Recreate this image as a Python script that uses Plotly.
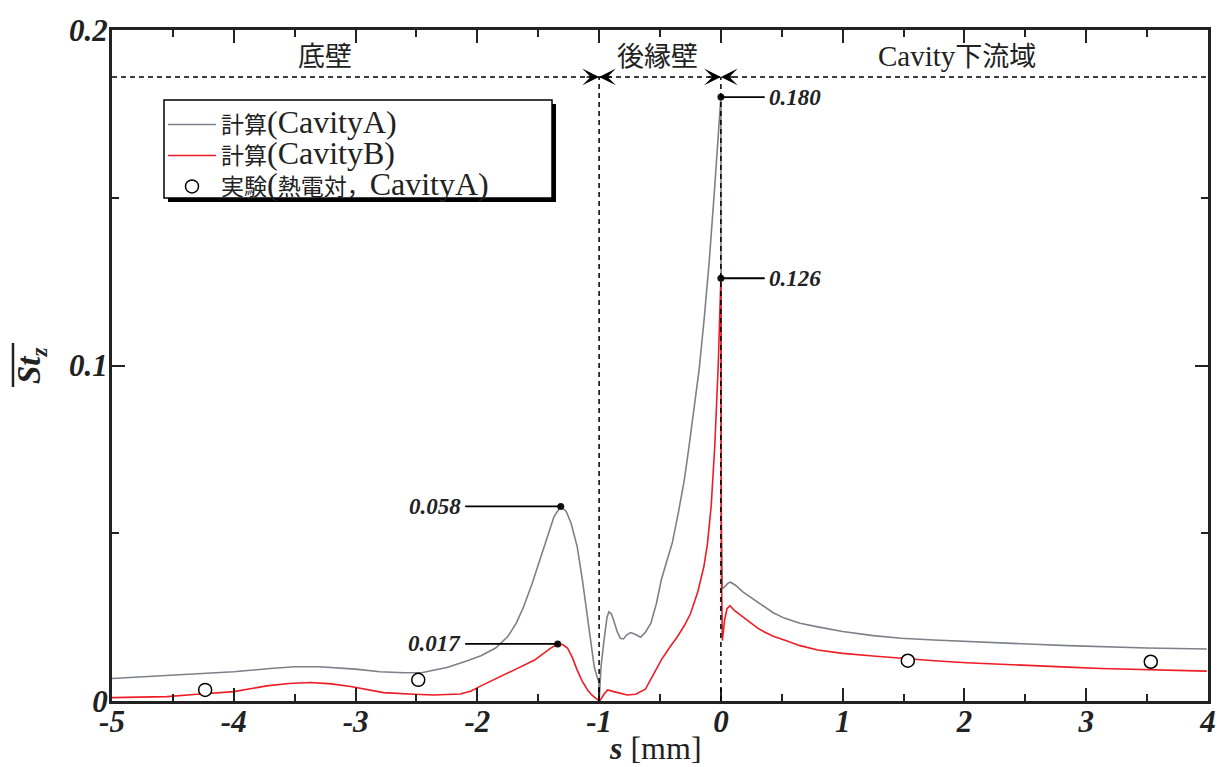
import plotly.graph_objects as go

# ---------------- data ----------------
s_A = [-5.0, -4.5, -4.0, -3.7, -3.5, -3.3, -3.0, -2.8, -2.6, -2.45, -2.25, -2.1, -1.97, -1.85,
       -1.75, -1.68, -1.62, -1.55, -1.48, -1.42, -1.37, -1.315, -1.27, -1.23, -1.18, -1.137,
       -1.082, -1.04, -1.013, -1.003, -0.998, -0.985, -0.96, -0.935, -0.92, -0.90, -0.88, -0.85,
       -0.825, -0.80, -0.77, -0.74, -0.70, -0.66, -0.62, -0.575, -0.53, -0.49, -0.45, -0.40,
       -0.35, -0.30, -0.265, -0.233, -0.20, -0.178, -0.137, -0.096, -0.055, -0.025, 0.0, 0.003,
       0.012, 0.03, 0.06, 0.08, 0.12, 0.18, 0.25, 0.30, 0.35, 0.43, 0.52, 0.65, 0.795, 1.0, 1.25,
       1.48, 1.75, 2.02, 2.3, 2.57, 2.85, 3.12, 3.5, 3.99]
st_A = [0.0067, 0.0077, 0.0087, 0.0097, 0.0102, 0.0102, 0.0095, 0.0087, 0.0084, 0.0085, 0.0100,
        0.0118, 0.0135, 0.0158, 0.0192, 0.0232, 0.0281, 0.0350, 0.0430, 0.0500, 0.0550, 0.0580,
        0.0565, 0.0530, 0.0460, 0.0360, 0.0212, 0.0102, 0.0068, 0.0060, 0.0010, 0.0100, 0.0180,
        0.0250, 0.0266, 0.0260, 0.0240, 0.0205, 0.0187, 0.0185, 0.0198, 0.0204, 0.0198, 0.0190,
        0.0205, 0.0232, 0.0290, 0.0360, 0.0410, 0.0470, 0.0560, 0.0660, 0.0750, 0.0840, 0.0930,
        0.0990, 0.1140, 0.1310, 0.1510, 0.1660, 0.1800, 0.0550, 0.0335, 0.0340, 0.0352, 0.0354,
        0.0345, 0.0325, 0.0307, 0.0294, 0.0282, 0.0263, 0.0247, 0.0232, 0.0221, 0.0207, 0.0195,
        0.0187, 0.0182, 0.0177, 0.0173, 0.0169, 0.0165, 0.0162, 0.0158, 0.0155]

s_B = [-5.0, -4.55, -4.3, -4.0, -3.73, -3.55, -3.37, -3.2, -3.04, -2.9, -2.77, -2.52, -2.36, -2.14,
       -2.05, -1.97, -1.81, -1.70, -1.53, -1.40, -1.34, -1.30, -1.26, -1.22, -1.18, -1.14, -1.095,
       -1.06, -1.027, -0.995, -0.96, -0.93, -0.88, -0.82, -0.77, -0.70, -0.66, -0.62, -0.575,
       -0.49, -0.42, -0.36, -0.30, -0.25, -0.19, -0.14, -0.11, -0.08, -0.05, -0.022, 0.0, 0.004,
       0.012, 0.03, 0.05, 0.075, 0.11, 0.18, 0.25, 0.30, 0.35, 0.43, 0.52, 0.65, 0.795, 1.0, 1.25,
       1.48, 1.75, 2.02, 2.3, 2.57, 2.85, 3.12, 3.5, 3.99]
st_B = [0.0010, 0.0013, 0.0020, 0.0028, 0.0045, 0.0052, 0.0055, 0.0051, 0.0043, 0.0033, 0.0025,
        0.0020, 0.0018, 0.0021, 0.0030, 0.0045, 0.0072, 0.0092, 0.0122, 0.0157, 0.0170, 0.0168,
        0.0158, 0.0130, 0.0092, 0.0060, 0.0033, 0.0018, 0.0008, 0.0000, 0.0020, 0.0033, 0.0028,
        0.0022, 0.0018, 0.0020, 0.0028, 0.0035, 0.0065, 0.0122, 0.0160, 0.0190, 0.0225, 0.0260,
        0.0325, 0.0400, 0.0470, 0.0580, 0.0760, 0.1000, 0.1260, 0.0400, 0.0180, 0.0240, 0.0275,
        0.0284, 0.0270, 0.0250, 0.0232, 0.0218, 0.0207, 0.0193, 0.0182, 0.0165, 0.0152, 0.0142,
        0.0134, 0.0127, 0.0120, 0.0114, 0.0109, 0.0105, 0.0101, 0.0097, 0.0093, 0.0089]

s_exp = [-4.235, -2.485, 1.535, 3.53]
st_exp = [0.0033, 0.0063, 0.0120, 0.0117]

peak_s = [-1.315, -1.34, 0.0, 0.0]
peak_v = [0.058, 0.017, 0.180, 0.126]
peak_side = ["left", "left", "right", "right"]

region_names = ["底壁", "後縁壁", "Cavity下流域"]
region_s = [-3.25, -0.52, 1.94]
region_bounds = [-1.0, 0.0]

x_ticks = [-5, -4, -3, -2, -1, 0, 1, 2, 3, 4]
x_ticktext = ["-5", "-4", "-3", "-2", "-1", "0", "1", "2", "3", "4"]
y_ticks = [0, 0.1, 0.2]
y_ticktext = ["0", "0.1", "0.2"]

# ---------------- layout helpers ----------------
W, H = 1223, 767
L, R, T, B = 112, 15, 30, 66
PW, PH = W - L - R, H - T - B


def px_x(p):
    return (p - L) / PW


def px_y(p):
    return (H - B - p) / PH


SERIF = "Liberation Serif"
CJK = "Noto Sans CJK JP"


def cjk(t, size=23):
    return f'<span style="font-family:{CJK};font-size:{size}px">{t}</span>'


def lat(t, size=32):
    return f'<span style="font-size:{size}px">{t}</span>'


GRAY = "#7c8088"
RED = "#ee1c24"

fig = go.Figure()
fig.add_trace(go.Scatter(x=s_A, y=st_A, mode="lines", line=dict(color=GRAY, width=1.6),
                         name=cjk("計算") + lat("(CavityA)")))
fig.add_trace(go.Scatter(x=s_B, y=st_B, mode="lines", line=dict(color=RED, width=1.6),
                         name=cjk("計算") + lat("(CavityB)")))
fig.add_trace(go.Scatter(x=s_exp, y=st_exp, mode="markers",
                         marker=dict(symbol="circle", size=13, color="white",
                                     line=dict(color="black", width=1.5)),
                         name=cjk("実験") + lat("(") + cjk("熱電対，") + lat("CavityA)")))
fig.add_trace(go.Scatter(x=peak_s, y=peak_v, mode="markers", showlegend=False,
                         marker=dict(color="#111", size=7)))

shapes = []
annotations = []
# peak leader lines and labels
for sx, v, side in zip(peak_s, peak_v, peak_side):
    if side == "left":
        shapes.append(dict(type="line", x0=-2.10, x1=sx, y0=v, y1=v,
                           line=dict(color="black", width=1.8)))
        annotations.append(dict(x=-2.12, y=v, text=f"{v:.3f}", showarrow=False,
                                xanchor="right", yanchor="middle",
                                font=dict(family=SERIF, size=23, weight="bold", style="italic",
                                          color="#222")))
    else:
        shapes.append(dict(type="line", x0=sx, x1=0.36, y0=v, y1=v,
                           line=dict(color="black", width=1.8)))
        annotations.append(dict(x=0.38, y=v, text=f"{v:.3f}", showarrow=False,
                                xanchor="left", yanchor="middle",
                                font=dict(family=SERIF, size=23, weight="bold", style="italic",
                                          color="#222")))

# region divider lines
Y_DIV = 0.186
shapes.append(dict(type="line", x0=-5, x1=4, y0=Y_DIV, y1=Y_DIV,
                   line=dict(color="black", width=1.5, dash="5px,4px")))
for bx in region_bounds:
    shapes.append(dict(type="line", x0=bx, x1=bx, y0=0, y1=Y_DIV,
                       line=dict(color="black", width=1.5, dash="5px,4px")))
    for off in (-14, 14):
        annotations.append(dict(x=bx, y=Y_DIV, ax=off, ay=0, text="", showarrow=True,
                                arrowhead=3, arrowsize=2.0, arrowwidth=1.4,
                                arrowcolor="black", standoff=0))

for name, sx in zip(region_names, region_s):
    if name.startswith("Cavity"):
        txt = lat("Cavity", 29) + cjk(name[6:], 27)
    else:
        txt = cjk(name, 27)
    annotations.append(dict(x=sx, y=0.1928, text=txt, showarrow=False,
                            xanchor="center", yanchor="middle",
                            font=dict(family=SERIF, size=27, color="#222")))

# legend box with shadow
shapes.append(dict(type="rect", xref="paper", yref="paper",
                   x0=px_x(168), x1=px_x(556), y0=px_y(202), y1=px_y(104),
                   fillcolor="black", line=dict(width=0), layer="above"))
shapes.append(dict(type="rect", xref="paper", yref="paper",
                   x0=px_x(164), x1=px_x(552), y0=px_y(198), y1=px_y(100),
                   fillcolor="white", line=dict(color="black", width=1.5), layer="above"))

# axis titles
annotations.append(dict(xref="paper", yref="paper", x=px_x(655), y=px_y(748),
                        text="<b><i>s</i></b> [mm]", showarrow=False,
                        xanchor="center", yanchor="middle",
                        font=dict(family=SERIF, size=32, color="#222")))
annotations.append(dict(xref="paper", yref="paper", x=px_x(31), y=px_y(365),
                        text="<b><i>St<sub>z</sub></i></b>", showarrow=False, textangle=-90,
                        xanchor="center", yanchor="middle",
                        font=dict(family=SERIF, size=33, color="#222")))
shapes.append(dict(type="line", xref="paper", yref="paper",
                   x0=px_x(13), x1=px_x(13), y0=px_y(387), y1=px_y(343),
                   line=dict(color="#222", width=2.5)))

tickfont = dict(family=SERIF, size=31, weight="bold", style="italic", color="#222")

fig.update_layout(
    width=W, height=H,
    margin=dict(l=L, r=R, t=T, b=B, pad=0),
    paper_bgcolor="white", plot_bgcolor="white",
    showlegend=True,
    legend=dict(x=px_x(163), y=px_y(104), xanchor="left", yanchor="top",
                bgcolor="rgba(0,0,0,0)", borderwidth=0,
                font=dict(family=SERIF, size=21.5, color="#222"),
                tracegroupgap=0, itemwidth=48),
    shapes=shapes,
    annotations=annotations,
    xaxis=dict(range=[-5, 4], tickvals=x_ticks, ticktext=x_ticktext, ticks="inside",
               ticklen=13, tickwidth=1.5, tickcolor="#222", showline=True, linewidth=3,
               linecolor="#222", mirror="ticks", showgrid=False, zeroline=False,
               tickfont=tickfont, automargin=False, ticklabelstandoff=-9,
               minor=dict(dtick=0.5, tick0=0, ticks="inside", ticklen=7, tickwidth=1.5,
                          tickcolor="#222", showgrid=False)),
    yaxis=dict(range=[0, 0.2], tickvals=y_ticks, ticktext=y_ticktext, ticks="inside",
               ticklen=13, tickwidth=1.5, tickcolor="#222", showline=True, linewidth=3,
               linecolor="#222", mirror="ticks", showgrid=False, zeroline=False,
               tickfont=tickfont, automargin=False, ticklabelstandoff=-5,
               minor=dict(dtick=0.05, tick0=0, ticks="inside", ticklen=7, tickwidth=1.5,
                          tickcolor="#222", showgrid=False)),
)

fig.write_html("out.html", config={"displayModeBar": False})

# remove the browser's default page margin so the figure sits at the window origin
with open("out.html", encoding="utf-8") as f:
    html = f.read()
html = html.replace("<head>", "<head><style>html,body{margin:0;padding:0;overflow:hidden;}</style>", 1)
with open("out.html", "w", encoding="utf-8") as f:
    f.write(html)
